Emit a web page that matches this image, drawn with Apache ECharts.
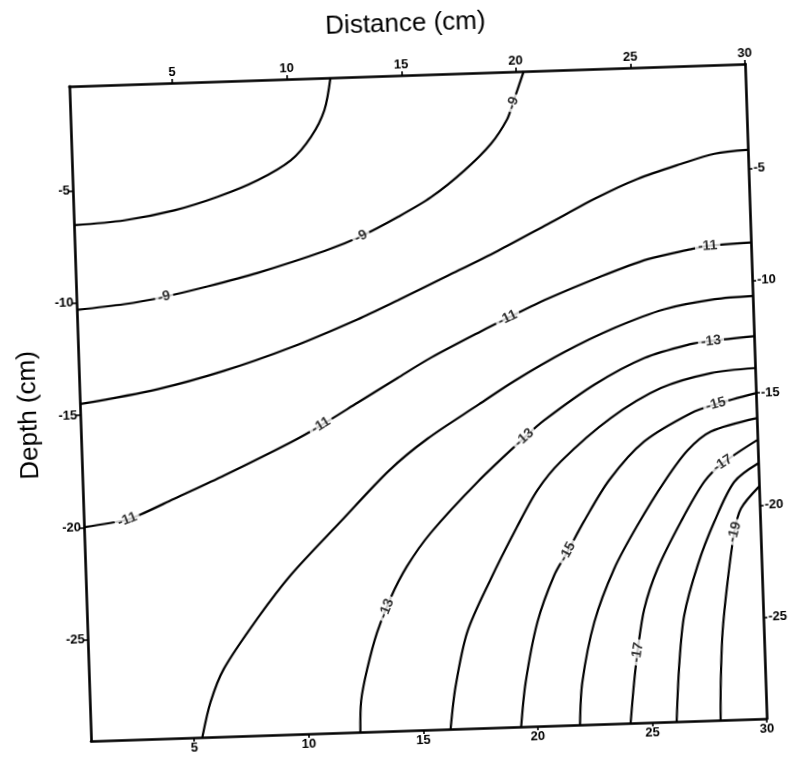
<!DOCTYPE html>
<html>
<head>
<meta charset="utf-8">
<script src="https://cdn.jsdelivr.net/npm/echarts@6/dist/echarts.min.js"></script>
<style>
  html, body { margin: 0; padding: 0; background: #fff; }
  #chart { width: 790px; height: 760px; transform: rotate(-1.9deg); transform-origin: 418px 402px; }
</style>
</head>
<body>
<div id="chart"></div>
<script>
// ---- data (Distance x, Depth y) ----
const xTicks = [5, 10, 15, 20, 25, 30];
const yTicks = [-25, -20, -15, -10, -5];
const levels = [-8, -9, -10, -11, -12, -13, -14, -15, -16, -17, -18, -19];

const line_8  = [[11.9,-0.35],[11.59,-1.78],[10.97,-2.95],[10.06,-3.96],[8.58,-4.8],[6.81,-5.48],[4.9,-6.02],[2.7,-6.39],[0.5,-6.53]];
const line_9  = [[20.34,-0.35],[19.82,-1.75],[19.55,-2.45],[18.81,-3.52],[17.61,-4.67],[16.12,-5.81],[14.63,-6.65],[13.0,-7.45],[11.39,-8.05],[8.45,-8.92],[6.24,-9.45],[4.33,-9.85],[2.58,-10.12],[0.5,-10.3]];
const line_10 = [[30,-4.17],[28.54,-4.3],[27.07,-4.7],[25.16,-5.3],[23.39,-6.06],[21.17,-7.18],[18.94,-8.3],[16.73,-9.33],[14.51,-10.35],[12.73,-11.14],[9.78,-12.29],[6.84,-13.23],[3.91,-13.95],[0.5,-14.5]];
const line_11 = [[30,-8.3],[28.11,-8.39],[27.38,-8.51],[25.48,-8.89],[23.27,-9.64],[21.06,-10.5],[19.28,-11.3],[18.1,-11.85],[15.88,-12.95],[14.4,-13.8],[12.61,-14.85],[10.98,-15.8],[9.65,-16.5],[6.69,-17.88],[4.47,-18.85],[2.99,-19.5],[2.4,-19.71],[0.5,-19.98]];
const line_12 = [[30,-10.68],[28.33,-10.77],[26.13,-11.14],[23.92,-11.9],[21.7,-12.9],[19.5,-14.1],[17.9,-15.1],[15.61,-16.55],[13.9,-17.9],[11.71,-20.1],[9.45,-22.41],[7.93,-24.3],[6.4,-26.48],[5.77,-27.94],[5.36,-29.5]];
const line_13 = [[30,-12.47],[28.1,-12.62],[27.23,-12.73],[25.19,-13.28],[22.97,-14.39],[20.73,-15.9],[19.83,-16.65],[17.73,-18.55],[15.61,-20.75],[14.53,-22.2],[13.76,-23.6],[13.13,-25.1],[12.65,-26.7],[12.34,-28.1],[12.26,-29.5]];
const line_14 = [[30,-13.89],[28.07,-14.05],[25.87,-14.64],[23.64,-15.9],[21.39,-17.76],[20.33,-19.0],[19.39,-20.6],[18.16,-22.9],[17.07,-25.2],[16.48,-27.6],[16.2,-29.5]];
const line_15 = [[30,-15.01],[28.24,-15.44],[27.14,-15.8],[25.06,-16.99],[23.49,-18.64],[22.32,-20.45],[21.55,-21.79],[20.94,-22.81],[20.14,-24.87],[19.54,-27.53],[19.28,-29.5]];
const line_16 = [[30,-16.12],[27.98,-16.65],[26.94,-17.45],[25.88,-18.81],[24.65,-20.7],[23.57,-22.6],[22.62,-24.96],[22.01,-27.62],[21.85,-29.5]];
const line_17 = [[30,-17.09],[28.45,-18.08],[27.62,-18.87],[26.54,-20.62],[25.46,-22.67],[24.82,-24.44],[24.46,-26.36],[24.27,-27.69],[24.06,-29.5]];
const line_18 = [[30,-18.13],[28.93,-18.92],[28.0,-20.67],[27.21,-22.58],[26.55,-24.79],[26.26,-27.02],[26.07,-29.5]];
const line_19 = [[30,-19.17],[29.18,-20.12],[28.86,-21.15],[28.49,-23.37],[28.2,-25.6],[28.05,-27.83],[27.99,-29.5]];

const contourLines = [line_8, line_9, line_10, line_11, line_12, line_13, line_14, line_15, line_16, line_17, line_18, line_19];

// contour labels: level and location on the line
const labelLevels = [-9, -9, -9, -11, -11, -11, -11, -13, -13, -13, -15, -15, -17, -17, -19];
const labelX = [19.82, 13.0, 4.33, 28.11, 19.28, 10.98, 2.4, 28.12, 19.83, 13.57, 28.24, 21.55, 28.45, 24.46, 28.86];
const labelY = [-1.75, -7.45, -9.85, -8.39, -11.3, -15.8, -19.71, -12.63, -16.65, -24.05, -15.44, -21.79, -18.08, -26.36, -21.15];

// ---- chart ----
const FONT = 'Liberation Sans, Arial, sans-serif';
const xMin = 0.5, xMax = 30, yMin = -29.5, yMax = -0.35;

function xAxisCfg(pos, extra) {
  return Object.assign({
    type: 'value', position: pos, min: xMin, max: xMax,
    axisLine: { show: true, onZero: false, lineStyle: { color: '#000', width: 2.6 } },
    axisTick: { show: true, inside: false, length: 4, customValues: xTicks, lineStyle: { color: '#000', width: 1.6 } },
    axisLabel: { show: true, customValues: xTicks, color: '#000', fontSize: 13, fontWeight: 'bold', fontFamily: FONT, margin: 4 },
    splitLine: { show: false }
  }, extra || {});
}
function yAxisCfg(pos, extra) {
  return Object.assign({
    type: 'value', position: pos, min: yMin, max: yMax,
    axisLine: { show: true, onZero: false, lineStyle: { color: '#000', width: 2.6 } },
    axisTick: { show: true, inside: false, length: 4, customValues: yTicks, lineStyle: { color: '#000', width: 1.6 } },
    axisLabel: { show: true, customValues: yTicks, color: '#000', fontSize: 13, fontWeight: 'bold', fontFamily: FONT, margin: 3 },
    splitLine: { show: false }
  }, extra || {});
}

const chart = echarts.init(document.getElementById('chart'), null, { renderer: 'canvas' });

const lineSeries = contourLines.map((pts, i) => ({
  name: String(levels[i]),
  type: 'line',
  xAxisIndex: 0, yAxisIndex: 0,
  data: pts,
  smooth: 0.3,
  symbol: 'none',
  clip: true,
  lineStyle: { color: '#000', width: 2.2 },
  z: 2,
  silent: true
}));

const baseOption = {
  animation: false,
  backgroundColor: '#fff',
  grid: { left: 80, top: 75, width: 676, height: 655, containLabel: false, show: false },
  xAxis: [
    xAxisCfg('bottom'),
    xAxisCfg('top', { name: 'Distance (cm)', nameLocation: 'middle', nameGap: 38,
      nameTextStyle: { fontSize: 26, color: '#000', fontFamily: FONT } })
  ],
  yAxis: [
    yAxisCfg('left', { name: 'Depth (cm)', nameLocation: 'middle', nameGap: 38, nameRotate: 90,
      nameTextStyle: { fontSize: 26, color: '#000', fontFamily: FONT } }),
    yAxisCfg('right', { axisLabel: { show: true, customValues: yTicks, color: '#000', fontSize: 13, fontWeight: 'bold', fontFamily: FONT, margin: 5 } })
  ],
  series: lineSeries
};
chart.setOption(baseOption);

// label angles follow the local direction of each contour line (computed in pixel space)
function angleAt(level, x, y) {
  const pts = contourLines[levels.indexOf(level)].map(p => chart.convertToPixel({ xAxisIndex: 0, yAxisIndex: 0 }, p));
  const q = chart.convertToPixel({ xAxisIndex: 0, yAxisIndex: 0 }, [x, y]);
  let best = Infinity, ang = 0;
  for (let i = 0; i < pts.length - 1; i++) {
    const a = pts[i], b = pts[i + 1];
    const vx = b[0] - a[0], vy = b[1] - a[1];
    const L2 = vx * vx + vy * vy;
    let t = ((q[0] - a[0]) * vx + (q[1] - a[1]) * vy) / L2;
    t = Math.max(0, Math.min(1, t));
    const dx = a[0] + t * vx - q[0], dy = a[1] + t * vy - q[1];
    const d = dx * dx + dy * dy;
    if (d < best) {
      best = d;
      ang = Math.atan2(-vy, vx) * 180 / Math.PI;
    }
  }
  if (ang > 90) ang -= 180;
  if (ang <= -90) ang += 180;
  return ang;
}

const labelData = labelLevels.map((lv, i) => ({
  value: [labelX[i], labelY[i]],
  label: {
    show: true,
    position: 'inside',
    formatter: String(lv),
    rotate: angleAt(lv, labelX[i], labelY[i]),
    color: '#000',
    fontSize: 14,
    fontWeight: 'bold',
    fontFamily: FONT,
    backgroundColor: '#fff',
    padding: [0, 3]
  }
}));

chart.setOption({
  series: lineSeries.concat([{
    name: 'labels',
    type: 'scatter',
    xAxisIndex: 0, yAxisIndex: 0,
    symbolSize: 1,
    itemStyle: { color: 'rgba(0,0,0,0)' },
    data: labelData,
    z: 5,
    silent: true
  }])
});
</script>
</body>
</html>
